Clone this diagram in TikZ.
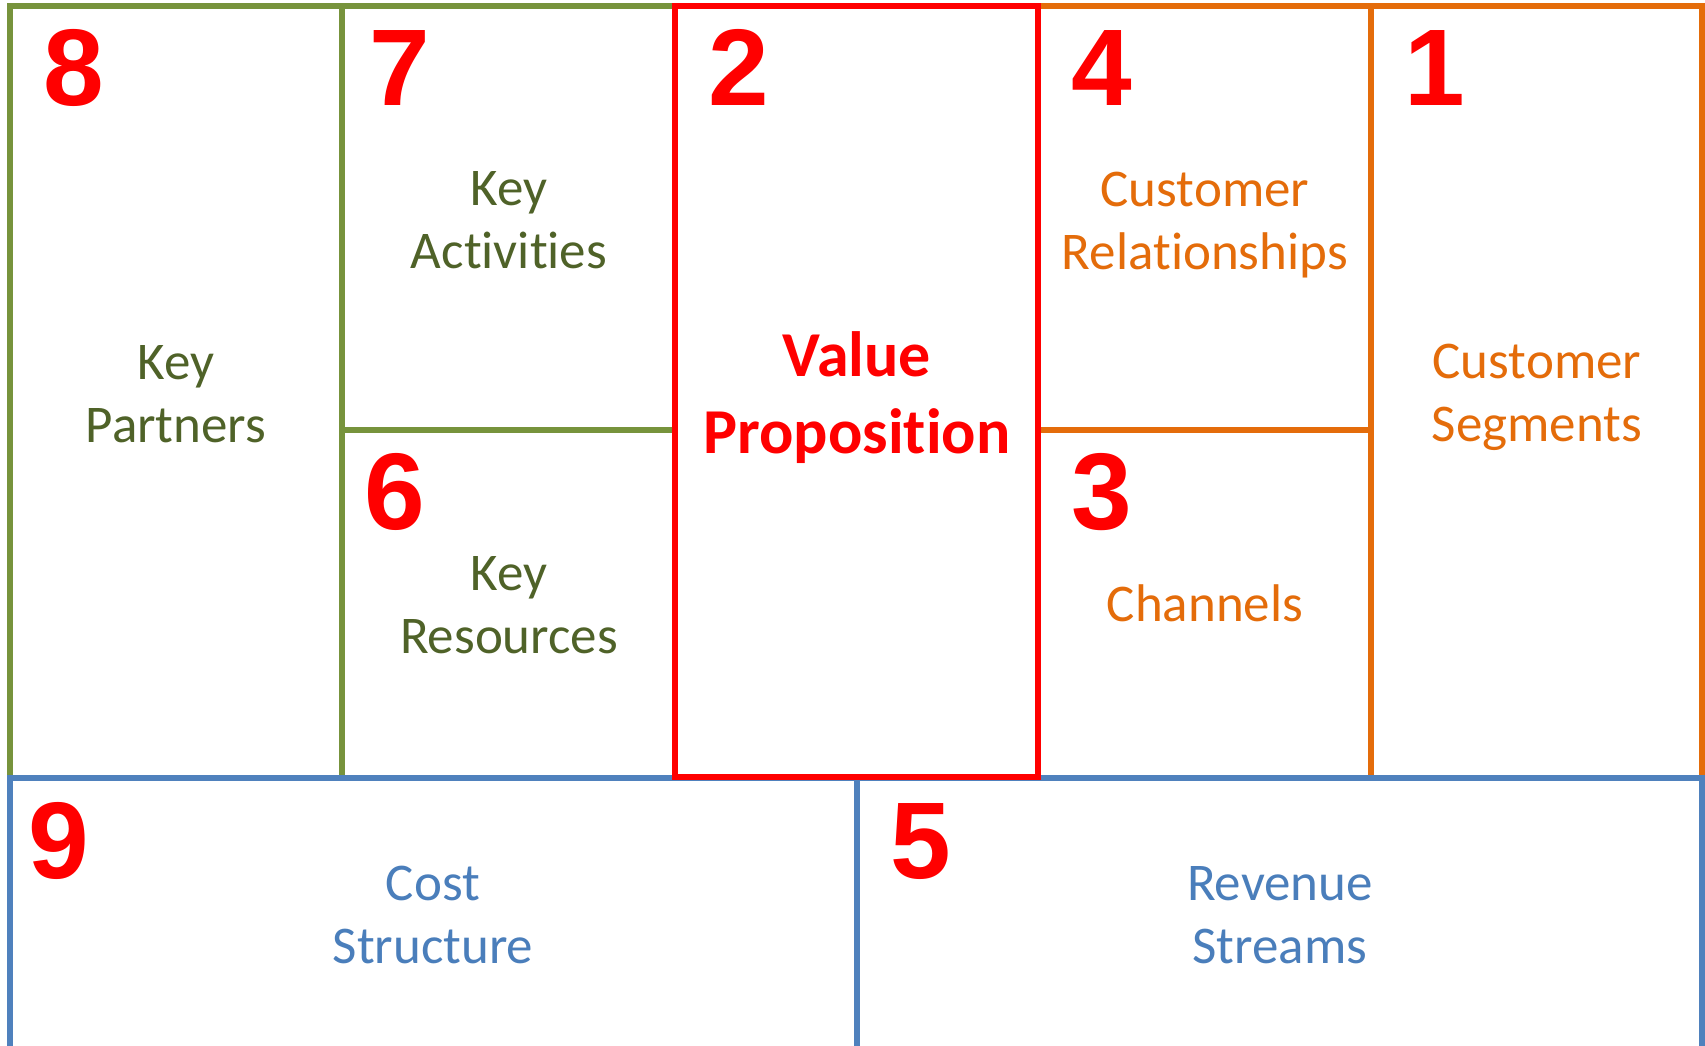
\documentclass[tikz,border=0pt]{standalone}
\usepackage{fontspec}
\setmainfont{Carlito}[Ligatures=NoCommon]
\newfontfamily\numfont{Liberation Sans}
\definecolor{bmgreen}{HTML}{77933C}
\definecolor{bmgreentext}{HTML}{4F6228}
\definecolor{bmorange}{HTML}{E46C0A}
\definecolor{bmblue}{HTML}{4F81BD}
\definecolor{bmbluetext}{HTML}{4A7EBB}
\begin{document}
\begin{tikzpicture}[x=1pt,y=-1pt,line width=6pt,
  num/.style={font=\numfont\bfseries\fontsize{109}{109}\selectfont, text=red, inner sep=0pt, anchor=base},
  lbl/.style={align=center, inner sep=0pt, anchor=base, font=\fontsize{53}{63}\selectfont},
  greenlbl/.style={lbl, text=bmgreentext},
  orangelbl/.style={lbl, text=bmorange},
  bluelbl/.style={lbl, text=bmbluetext},
  vplbl/.style={align=center, inner sep=0pt, anchor=base, text=red, font=\bfseries\fontsize{64}{77}\selectfont}]
\useasboundingbox (0,0) rectangle (1705,1046);
\fill[white] (0,0) rectangle (1705,1046);
% green block
\draw[bmgreen] (10,6) rectangle (675,778);
\draw[bmgreen] (342,6) -- (342,778);
\draw[bmgreen] (342,430) -- (675,430);
% orange block
\draw[bmorange] (1038,6) rectangle (1702,778);
\draw[bmorange] (1371,6) -- (1371,778);
\draw[bmorange] (1038,430) -- (1371,430);
% blue block
\draw[bmblue] (10,1070) -- (10,778) -- (1702,778) -- (1702,1070);
\draw[bmblue] (857,778) -- (857,1070);
% red block
\draw[red] (675,6) rectangle (1038,777);
% numbers
\node[num] (n8) at (74,106) {8};
\node[num] (n7) at (400,106) {7};
\node[num] (n2) at (739,106) {2};
\node[num] (n4) at (1102,106) {4};
\node[num] (n1) at (1435,106) {1};
\node[num] (n6) at (395,529) {6};
\node[num] (n3) at (1102,529) {3};
\node[num] (n9) at (59,878) {9};
\node[num] (n5) at (921,878) {5};
% labels (anchor = baseline of last line)
\node[greenlbl] (kp) at (176,442) {Key\\Partners};
\node[greenlbl] (ka) at (509,268) {Key\\Activities};
\node[greenlbl] (kr) at (509,653) {Key\\Resources};
\node[vplbl] (vp) at (857,453) {Value\\Proposition};
\node[orangelbl] (cr) at (1205,269) {Customer\\Relationships};
\node[orangelbl] (ch) at (1205,621) {Channels};
\node[orangelbl] (cs) at (1537,441) {Customer\\Segments};
\node[bluelbl] (cst) at (433,963) {Cost\\Structure};
\node[bluelbl] (rs) at (1280,963) {Revenue\\Streams};
\end{tikzpicture}
\end{document}
